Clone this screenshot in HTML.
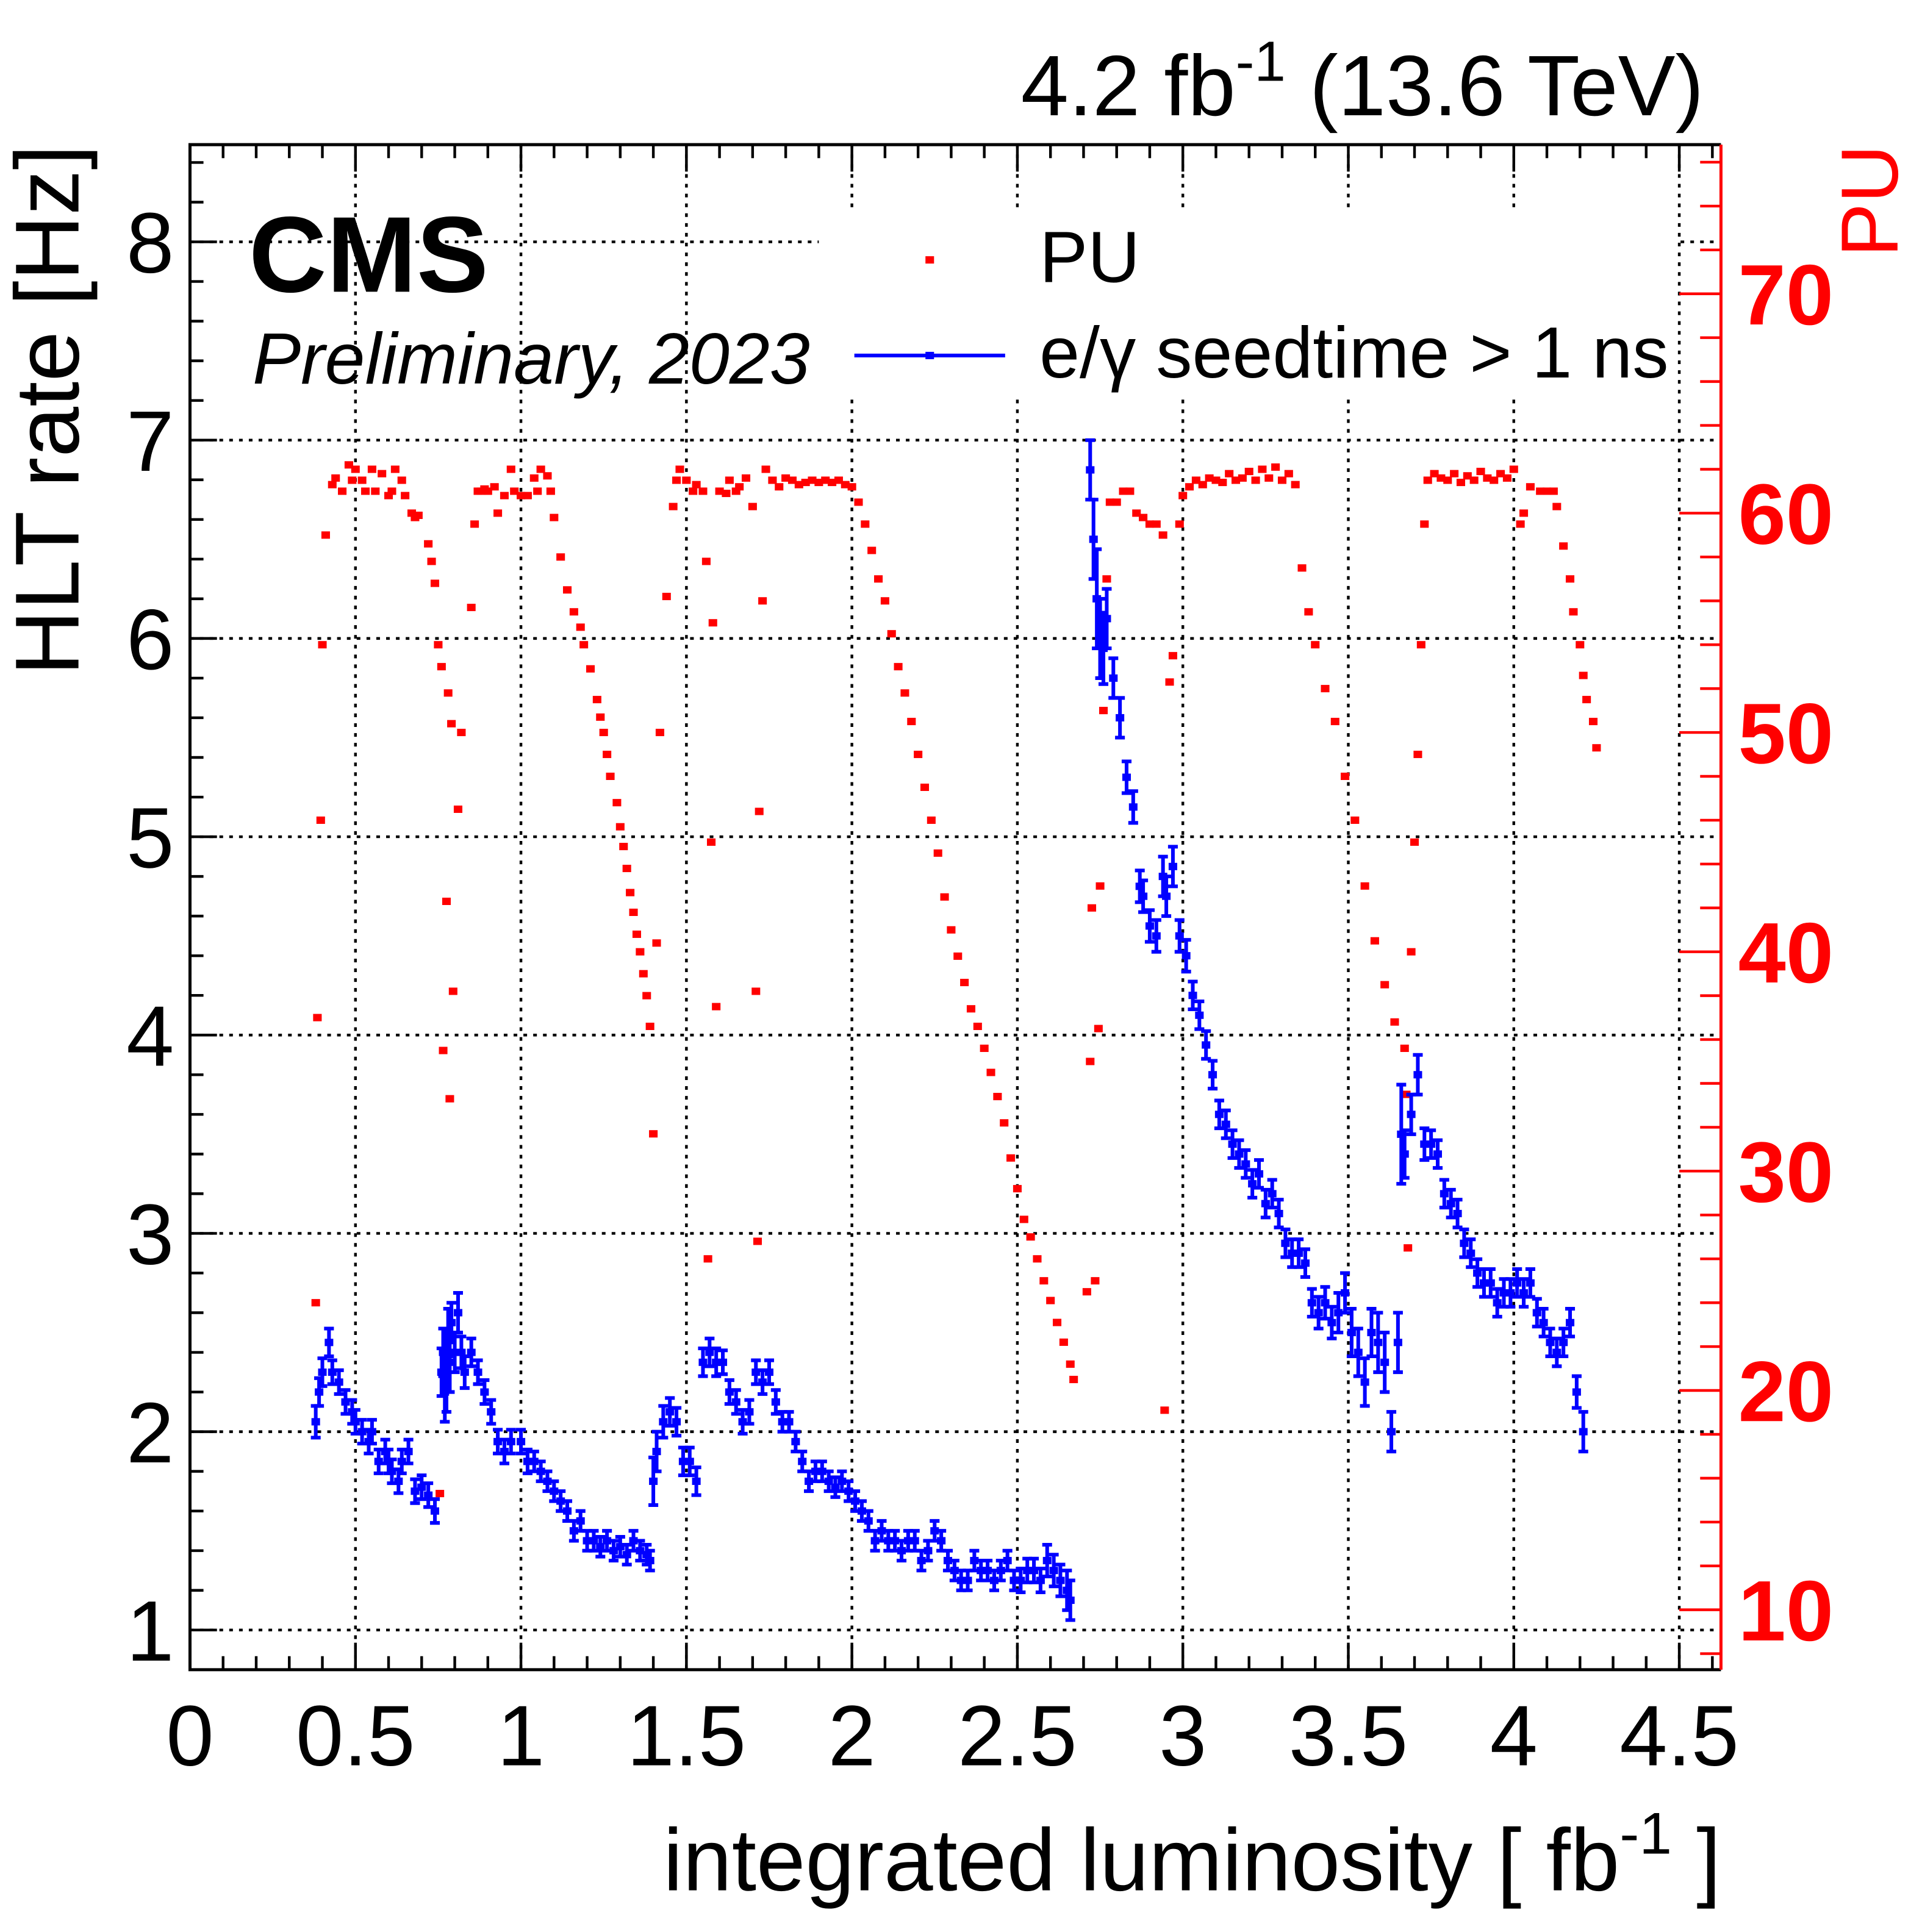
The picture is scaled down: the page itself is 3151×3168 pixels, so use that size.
<!DOCTYPE html>
<html><head><meta charset="utf-8"><style>
html,body{margin:0;padding:0;background:#fff}
svg{display:block}
text{font-family:"Liberation Sans",sans-serif}
</style></head><body>
<svg id="chart" width="3151" height="3168" viewBox="0 0 1568 1576" preserveAspectRatio="none" xmlns="http://www.w3.org/2000/svg">
<rect x="0" y="0" width="1568" height="1576" fill="#fff"/>
<g id="grid"></g>
<rect x="668" y="172" width="700" height="150" fill="#fff"/>
<g id="marks"></g>
<g id="axes"></g>
<text x="1390" y="94" font-size="70" text-anchor="end">4.2 fb<tspan dy="-28" font-size="46">-1</tspan><tspan dy="28"> (13.6 TeV)</tspan></text>
<text x="203" y="238" font-size="88" font-weight="bold">CMS</text>
<text x="206" y="313" font-size="59" font-style="italic">Preliminary, 2023</text>
<rect x="755" y="209" width="7" height="6" fill="#f00"/>
<text x="848" y="230" font-size="59">PU</text>
<line x1="697" y1="290" x2="820" y2="290" stroke="#00f" stroke-width="3"/>
<rect x="755" y="287" width="7" height="6" fill="#00f"/>
<text x="848" y="308" font-size="59">e/γ seedtime &gt; 1 ns</text>
<text transform="translate(64,118) rotate(-90)" font-size="74" text-anchor="end">HLT rate [Hz]</text>
<text transform="translate(1548,118) rotate(-90)" font-size="66" text-anchor="end" fill="#f00">PU</text>
<text x="1404" y="1542" font-size="72" text-anchor="end">integrated luminosity [ fb<tspan dy="-30" font-size="48">-1</tspan><tspan dy="30"> ]</tspan></text>
</svg>
<script>
const xTicks=[0,0.5,1,1.5,2,2.5,3,3.5,4,4.5];
const xTickLabels=["0","0.5","1","1.5","2","2.5","3","3.5","4","4.5"];
const yTicks=[1,2,3,4,5,6,7,8];
const y2Ticks=[10,20,30,40,50,60,70];
const puX=[0.38,0.385,0.395,0.40,0.41,0.43,0.44,0.46,0.48,0.49,0.50,0.52,0.53,0.55,0.56,0.58,0.60,0.61,0.62,0.64,0.65,0.67,0.68,0.69,0.72,0.73,0.74,0.75,0.76,0.78,0.79,0.755,
0.765,0.775,0.785,0.795,0.81,0.82,0.85,0.86,0.87,0.88,0.89,0.90,0.92,0.93,0.95,0.97,0.98,1.0,1.02,1.04,1.05,1.06,1.08,1.09,1.10,1.12,1.14,1.16,1.18,1.19,1.21,1.23,1.24,1.25,1.26,1.27,1.29,1.30,1.31,1.32,1.33,1.34,1.35,1.36,1.37,1.38,1.39,1.40,1.41,1.42,1.44,
1.46,1.47,1.48,1.50,1.52,1.53,1.55,1.56,1.565,1.575,1.58,1.59,1.60,1.62,1.63,1.65,1.66,1.68,1.70,1.71,1.715,1.72,1.73,1.74,1.76,1.78,1.80,1.82,1.84,1.86,1.88,1.90,1.92,1.94,1.96,1.98,2.0,2.02,2.04,2.06,2.08,2.10,2.12,2.14,2.16,2.18,2.20,2.22,2.24,2.26,2.28,2.30,2.32,2.34,2.36,2.38,2.40,2.42,2.44,2.46,2.48,2.50,2.52,2.54,2.56,2.58,2.60,2.62,2.64,2.66,2.67,
2.71,2.72,2.725,2.735,2.745,2.75,2.76,2.77,2.78,2.80,2.82,2.84,2.86,2.88,2.90,2.92,2.94,2.945,2.96,2.97,2.99,3.0,3.02,3.04,3.06,3.08,3.10,3.12,3.14,3.16,3.18,3.20,3.22,3.24,3.26,3.28,3.30,3.32,3.34,3.36,3.38,3.40,3.43,3.46,3.49,3.52,3.55,3.58,3.61,3.64,3.67,3.675,3.68,3.69,3.70,3.71,3.72,3.73,3.74,3.76,3.78,3.80,3.82,3.84,3.86,3.88,3.90,3.92,3.94,3.96,3.98,4.0,4.02,4.03,4.05,4.08,4.10,4.12,4.13,4.15,4.17,4.18,4.20,4.21,4.22,4.24,4.25];
const puY=[24,37,46,54,59,61.3,61.6,61,62.2,61.5,62,61.5,61,62,61,61.8,60.8,61,62,61.5,60.8,60,59.8,59.9,58.6,57.8,56.8,54,53,51.8,50.4,15.3,
35.5,42.3,33.3,38.2,46.5,50,55.7,59.5,61,61,61.1,61,61.2,60,60.8,62,61,60.8,60.8,61.6,61,62,61.7,61,59.8,58,56.5,55.5,54.8,54,52.9,51.5,50.7,50,49,48,46.8,45.7,44.8,43.8,42.7,41.8,40.8,40,39,38,36.6,31.7,40.4,50,56.2,
60.3,61.5,62,61.5,61,61.3,61,57.8,26,45,55,37.5,61,60.9,61.5,61,61.2,61.6,60.3,38.2,26.8,46.4,56,62,61.5,61.2,61.6,61.5,61.3,61.4,61.5,61.4,61.5,61.4,61.5,61.3,61.2,60.5,59.5,58.3,57,56,54.5,53,51.8,50.5,49,47.5,46,44.5,42.5,41,39.8,38.6,37.4,36.6,35.6,34.5,33.4,32.2,30.6,29.2,27.8,27,26,25,24.1,23.1,22.2,21.2,20.5,
24.5,35,42,25,36.5,43,51,57,60.5,60.5,61,61,60,59.8,59.5,59.5,59,19.1,52.3,53.5,59.5,60.8,61.2,61.5,61.3,61.6,61.5,61.4,61.8,61.5,61.6,61.9,61.5,62,61.6,62.1,61.5,61.8,61.3,57.5,55.5,54,52,50.5,48,46,43,40.5,38.5,36.8,35.6,33.5,26.5,40,45,49,54,59.5,61.5,61.8,61.6,61.5,61.8,61.4,61.7,61.5,61.9,61.6,61.5,61.8,61.6,62,59.5,60,61.2,61,61,61,60.3,58.5,57,55.5,54,52.6,51.5,50.5,49.3];
const rateX=[0.38,0.39,0.40,0.42,0.43,0.45,0.47,0.49,0.50,0.52,0.54,0.55,0.57,0.59,0.60,0.61,0.63,0.64,0.66,0.68,0.70,0.72,0.74,
0.76,0.765,0.77,0.775,0.78,0.785,0.79,0.80,0.81,0.82,0.83,0.85,0.87,0.89,0.91,0.93,0.95,0.97,1.0,1.02,1.04,1.06,1.08,1.10,1.12,1.14,1.16,1.18,1.20,1.22,1.24,1.26,1.28,1.30,1.32,1.34,1.36,1.38,1.39,
1.40,1.41,1.43,1.45,1.47,1.49,1.51,1.53,1.55,1.57,1.59,1.61,1.63,1.65,1.67,1.69,1.71,1.73,1.75,1.77,1.79,1.81,1.83,1.85,1.87,1.89,1.91,1.93,1.95,1.97,1.99,2.01,2.03,2.05,2.07,2.09,2.11,2.13,2.15,2.17,2.19,2.21,2.23,2.25,2.27,2.29,2.31,2.33,2.35,2.37,2.39,2.41,2.43,2.45,2.47,2.49,2.51,2.53,2.55,2.57,2.59,2.61,2.63,2.65,2.66,
2.72,2.73,2.74,2.75,2.76,2.77,2.79,2.81,2.83,2.85,2.87,2.88,2.90,2.92,2.94,2.95,2.97,2.99,3.01,3.03,3.05,3.07,3.09,3.11,3.13,3.15,3.17,3.19,3.21,3.23,3.25,3.27,3.29,3.31,3.33,3.35,3.37,3.39,3.41,3.43,3.45,3.47,3.49,3.51,3.53,3.55,3.57,3.59,3.61,3.63,3.65,3.66,3.67,3.69,3.71,3.73,3.75,3.77,3.79,3.81,3.83,3.85,3.87,3.89,3.91,3.93,3.95,3.97,3.99,4.01,4.03,4.05,4.07,4.09,4.11,4.13,4.15,4.17,4.19,4.21];
const rateY=[2.05,2.2,2.3,2.45,2.3,2.25,2.15,2.1,2.05,2.0,1.95,2.0,1.85,1.9,1.85,1.8,1.75,1.85,1.9,1.7,1.72,1.68,1.6,
2.3,2.4,2.2,2.3,2.5,2.35,2.55,2.4,2.6,2.4,2.3,2.4,2.3,2.2,2.1,1.95,1.9,1.95,1.95,1.85,1.85,1.8,1.75,1.7,1.65,1.6,1.5,1.55,1.45,1.45,1.42,1.45,1.4,1.42,1.38,1.45,1.4,1.38,1.35,
1.75,1.9,2.05,2.1,2.05,1.85,1.85,1.75,2.35,2.4,2.35,2.35,2.2,2.15,2.05,2.1,2.3,2.25,2.3,2.15,2.05,2.05,1.95,1.85,1.75,1.8,1.8,1.75,1.72,1.75,1.7,1.65,1.6,1.55,1.45,1.5,1.45,1.45,1.4,1.45,1.45,1.35,1.4,1.5,1.45,1.35,1.3,1.25,1.25,1.35,1.3,1.3,1.25,1.3,1.35,1.25,1.25,1.3,1.3,1.25,1.35,1.3,1.25,1.2,1.15,
6.85,6.5,6.2,6.0,5.95,6.1,5.8,5.6,5.3,5.15,4.75,4.7,4.55,4.5,4.8,4.7,4.85,4.5,4.4,4.2,4.1,3.95,3.8,3.6,3.55,3.45,3.4,3.35,3.25,3.3,3.15,3.2,3.1,2.95,2.9,2.9,2.85,2.65,2.6,2.65,2.55,2.6,2.7,2.5,2.4,2.25,2.5,2.45,2.35,2.0,2.45,3.5,3.4,3.6,3.8,3.45,3.45,3.4,3.2,3.15,3.1,2.95,2.9,2.8,2.75,2.75,2.65,2.7,2.7,2.75,2.7,2.75,2.6,2.55,2.45,2.4,2.45,2.55,2.2,2.0];
const rateErr=[0.08,0.07,0.07,0.07,0.06,0.06,0.06,0.06,0.06,0.06,0.06,0.06,0.06,0.06,0.06,0.06,0.06,0.06,0.06,0.06,0.06,0.06,0.06,
0.12,0.12,0.15,0.2,0.12,0.15,0.1,0.1,0.1,0.08,0.08,0.07,0.06,0.06,0.06,0.06,0.06,0.06,0.06,0.06,0.05,0.05,0.05,0.05,0.05,0.05,0.05,0.05,0.05,0.05,0.05,0.05,0.05,0.05,0.05,0.05,0.05,0.05,0.05,
0.12,0.1,0.08,0.07,0.07,0.07,0.07,0.07,0.07,0.07,0.07,0.06,0.06,0.06,0.06,0.06,0.06,0.06,0.06,0.06,0.05,0.05,0.05,0.05,0.05,0.05,0.05,0.05,0.05,0.05,0.05,0.05,0.05,0.05,0.05,0.05,0.05,0.05,0.05,0.05,0.05,0.05,0.05,0.05,0.05,0.05,0.05,0.05,0.05,0.05,0.05,0.05,0.05,0.05,0.05,0.05,0.06,0.06,0.06,0.06,0.08,0.08,0.08,0.1,0.1,
0.15,0.2,0.25,0.2,0.18,0.15,0.1,0.1,0.08,0.08,0.08,0.08,0.08,0.08,0.1,0.1,0.1,0.08,0.08,0.07,0.07,0.07,0.07,0.07,0.07,0.07,0.07,0.07,0.07,0.07,0.07,0.07,0.07,0.07,0.07,0.07,0.07,0.07,0.08,0.08,0.08,0.1,0.1,0.12,0.12,0.12,0.12,0.15,0.15,0.1,0.15,0.25,0.12,0.1,0.1,0.08,0.07,0.07,0.07,0.07,0.07,0.07,0.07,0.07,0.07,0.07,0.07,0.07,0.07,0.07,0.07,0.07,0.07,0.07,0.07,0.07,0.07,0.07,0.08,0.1];
const L=155,R=1404,T=118,B=1362;
const xMin=0,xMax=4.626,yMin=0.8,yMax=8.49,pMin=7.27,pMax=76.8;
const sx=v=>L+(v-xMin)/(xMax-xMin)*(R-L);
const sy=v=>B-(v-yMin)/(yMax-yMin)*(B-T);
const sp=v=>B-(v-pMin)/(pMax-pMin)*(B-T);
const NS="http://www.w3.org/2000/svg";
function mk(tag,attrs,parent){const e=document.createElementNS(NS,tag);for(const k in attrs)e.setAttribute(k,attrs[k]);parent.appendChild(e);return e;}
const grid=document.getElementById('grid'),marks=document.getElementById('marks'),axes=document.getElementById('axes');
const ds={stroke:"#000","stroke-width":2.2,"stroke-dasharray":"3 5"};
xTicks.forEach(v=>{if(v>0){const g=mk('line',Object.assign({x1:sx(v),x2:sx(v),y1:T,y2:B},ds),grid);

}});
yTicks.forEach(v=>{const g=mk('line',Object.assign({x1:L,x2:R,y1:sy(v),y2:sy(v)},ds),grid);

});
puX.forEach((x,i)=>{const r=mk('rect',{x:sx(x)-3.5,y:sp(puY[i])-3,width:7,height:6,fill:"#f00"},marks);

});
rateX.forEach((x,i)=>{const g=mk('g',{},marks);


const cx=sx(x),y1=sy(rateY[i]+rateErr[i]),y2=sy(rateY[i]-rateErr[i]);
mk('line',{x1:cx,x2:cx,y1:y1,y2:y2,stroke:"#00f","stroke-width":3},g);
mk('line',{x1:cx-4,x2:cx+4,y1:y1,y2:y1,stroke:"#00f","stroke-width":3},g);
mk('line',{x1:cx-4,x2:cx+4,y1:y2,y2:y2,stroke:"#00f","stroke-width":3},g);
mk('rect',{x:cx-3.5,y:sy(rateY[i])-3,width:7,height:6,fill:"#00f"},g);});
const fr=mk('path',{d:`M${R},${T}H${L}V${B}H${R}`,fill:"none",stroke:"#000","stroke-width":2.5},axes);


const ra=mk('line',{x1:R,x2:R,y1:T,y2:B,stroke:"#f00","stroke-width":2.5},axes);


for(let k=0;k<=46;k++){const v=k*0.1;if(v>xMax)break;const maj=(k%5===0);const len=maj?22:11;const x=sx(v);
mk('line',{x1:x,x2:x,y1:B,y2:B-len,stroke:"#000","stroke-width":2.2},axes);
mk('line',{x1:x,x2:x,y1:T,y2:T+len,stroke:"#000","stroke-width":2.2},axes);}
xTicks.forEach((v,i)=>{const t=mk('text',{x:sx(v),y:1440,"font-size":70,"text-anchor":"middle"},axes);t.textContent=xTickLabels[i];

});
for(let k=4;k<=42;k++){const v=k*0.2;if(v<yMin||v>yMax)continue;const maj=(k%5===0);const len=maj?22:11;
mk('line',{x1:L,x2:L+len,y1:sy(v),y2:sy(v),stroke:"#000","stroke-width":2.2},axes);}
yTicks.forEach(v=>{const t=mk('text',{x:142,y:sy(v)+25,"font-size":70,"text-anchor":"end"},axes);t.textContent=String(v);

});
for(let v=8;v<=76;v+=2){const maj=(v%10===0);const len=maj?34:17;
mk('line',{x1:R,x2:R-len,y1:sp(v),y2:sp(v),stroke:"#f00","stroke-width":2.2},axes);}
y2Ticks.forEach(v=>{const t=mk('text',{x:1418,y:sp(v)+25,"font-size":70,"font-weight":"bold",fill:"#f00"},axes);t.textContent=String(v);

});
</script>
</body></html>
